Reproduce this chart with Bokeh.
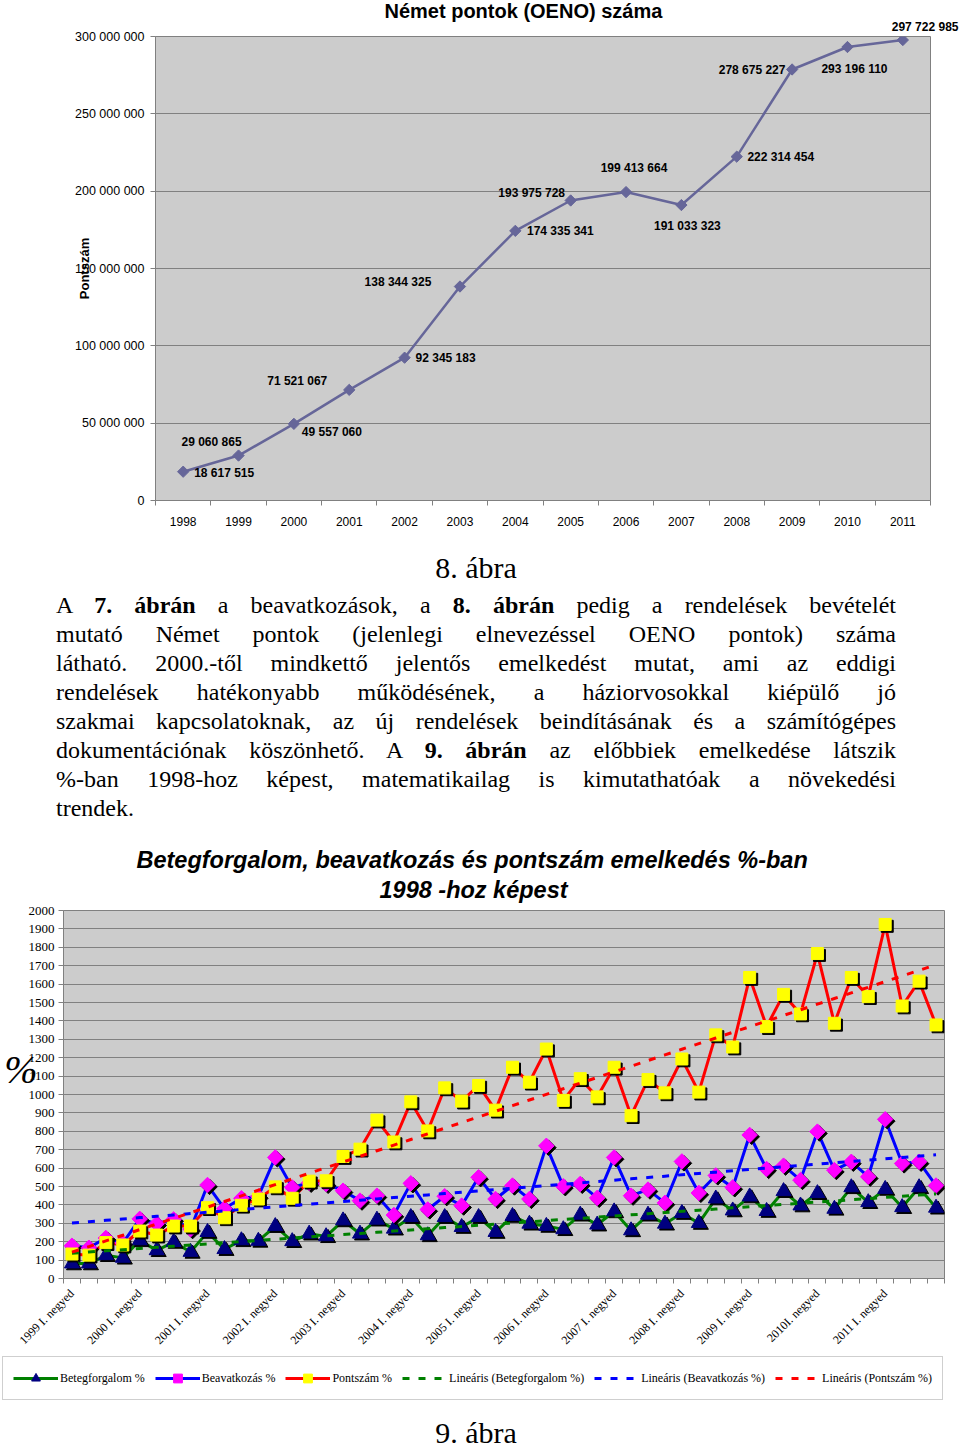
import numpy as np
from math import pi
from bokeh.plotting import figure
from bokeh.models import (ColumnDataSource, LabelSet, FixedTicker, CustomJSTickFormatter,
                          Legend, LegendItem, Div, Range1d, Title, LinearAxis)
from bokeh.layouts import column, row
from bokeh.transform import dodge
from bokeh.core.properties import value
from bokeh.embed import file_html
from bokeh.resources import INLINE

# ---------------- data: chart 8 ----------------
years = ['1998', '1999', '2000', '2001', '2002', '2003', '2004', '2005',
         '2006', '2007', '2008', '2009', '2010', '2011']
pontszam_total = [18617515, 29060865, 49557060, 71521067, 92345183, 138344325,
                  174335341, 193975728, 199413664, 191033323, 222314454,
                  278675227, 293196110, 297722985]
y_ticks_top = [0, 50000000, 100000000, 150000000, 200000000, 250000000, 300000000]

# style: label offsets (pixels) for the data labels of chart 8
label_dx = [41, -27, 38, -52, 41, -62, 45, -39, 8, 6, 44, -40, 7]
label_dy = [-1, 14, -8, 9, 0, 5, 0, 7, 24, -21, 0, -1, -22]

# ---------------- data: chart 9 ----------------
year_list = [str(y) for y in range(1999, 2012)]
roman = ['I', 'II', 'III', 'IV']
quarters = []
for y in year_list:
    for q in roman:
        sep = '' if y == '2010' else ' '
        quarters.append(f"{y}{sep}{q}. negyed")

betegforgalom = [81, 81, 126, 112, 207, 153, 198, 144, 252, 159, 207, 204, 284, 202, 243, 229,
                 315, 243, 319, 270, 333, 234, 333, 279, 333, 252, 339, 297, 285, 267, 346, 292,
                 364, 261, 346, 297, 355, 301, 434, 369, 445, 366, 474, 396, 463, 378, 495, 414,
                 486, 387, 495, 384]
beavatkozas = [178, 167, 220, 192, 324, 298, 321, 268, 508, 380, 436, 446, 658, 495, 520, 514,
               477, 423, 450, 345, 517, 375, 447, 396, 550, 432, 505, 432, 721, 501, 514, 438,
               658, 450, 483, 411, 636, 465, 560, 495, 780, 595, 613, 535, 798, 589, 634, 553,
               865, 625, 634, 505]
pontszam = [133, 127, 195, 182, 258, 236, 285, 285, 385, 330, 398, 432, 498, 436, 529, 531,
            663, 703, 861, 742, 960, 802, 1036, 964, 1049, 915, 1148, 1067, 1247, 968, 1086, 987,
            1148, 885, 1081, 1009, 1193, 1013, 1324, 1258, 1636, 1369, 1544, 1438, 1766, 1387,
            1636, 1532, 1924, 1481, 1616, 1378]
y_ticks_bottom = list(range(0, 2001, 100))
pct_label_at = 1135

SANS = "Liberation Sans"
SERIF = "Liberation Serif"


def fmt(v):
    return f"{v:,}".replace(",", " ")


# ================= chart 8 =================
x1 = list(range(len(years)))
src1 = ColumnDataSource(dict(x=x1, y=pontszam_total))
n_in = len(label_dx)
src1l = ColumnDataSource(dict(x=x1[:n_in], y=pontszam_total[:n_in],
                              lab=[fmt(v) for v in pontszam_total[:n_in]],
                              dx=label_dx, dy=label_dy))

p1 = figure(width=960, height=545, x_range=Range1d(-0.5, len(years) - 0.5),
            y_range=Range1d(0, 300000000), output_backend="svg", toolbar_location=None,
            min_border_left=155, min_border_right=30, min_border_top=36, min_border_bottom=45,
            background_fill_color="#CCCCCC", border_fill_color="white")
p1.title.text = "Német pontok (OENO) száma"
p1.title.text_font = SANS
p1.title.text_font_size = "20px"
p1.title.text_font_style = "bold"
p1.title.text_color = "black"
p1.title.align = "left"
p1.title.offset = 229
p1.title.standoff = -14
# last data label sits outside the plot area (above-right), as in the original
p1.add_layout(Title(text=fmt(pontszam_total[-1]), align="right", offset=-28,
                    text_font=SANS, text_font_size="12px", text_font_style="bold",
                    text_color="black", standoff=6), "above")
p1.outline_line_color = "#808080"
p1.xgrid.grid_line_color = None
p1.ygrid.grid_line_color = "#808080"
p1.ygrid.ticker = FixedTicker(ticks=y_ticks_top)

p1.xaxis.ticker = FixedTicker(ticks=x1, minor_ticks=[i - 0.5 for i in range(len(years) + 1)])
p1.xaxis.major_label_overrides = {i: years[i] for i in x1}
p1.xaxis.major_tick_out = 0
p1.xaxis.major_tick_in = 0
p1.xaxis.minor_tick_out = 5
p1.xaxis.minor_tick_in = 0
p1.xaxis.minor_tick_line_color = "#808080"
p1.xaxis.axis_line_color = "#808080"
p1.xaxis.major_label_text_font = SANS
p1.xaxis.major_label_text_font_size = "12px"
p1.xaxis.major_label_text_color = "black"
p1.xaxis.major_label_standoff = 11

p1.yaxis.ticker = FixedTicker(ticks=y_ticks_top)
p1.yaxis.formatter = CustomJSTickFormatter(
    code="return Math.round(tick).toString().replace(/\\B(?=(\\d{3})+(?!\\d))/g, ' ');")
p1.yaxis.major_tick_out = 5
p1.yaxis.major_tick_in = 0
p1.yaxis.minor_tick_line_color = None
p1.yaxis.major_tick_line_color = "#808080"
p1.yaxis.axis_line_color = "#808080"
p1.yaxis.major_label_text_font = SANS
p1.yaxis.major_label_text_font_size = "12.5px"
p1.yaxis.major_label_text_color = "black"
p1.yaxis.major_label_standoff = 6
p1.yaxis.axis_label = "Pontszám"
p1.yaxis.axis_label_text_font = SANS
p1.yaxis.axis_label_text_font_size = "13px"
p1.yaxis.axis_label_text_font_style = "bold"
p1.yaxis.axis_label_text_color = "black"
p1.yaxis.axis_label_standoff = -20

p1.line('x', 'y', source=src1, line_color="#666699", line_width=2.5)
p1.scatter('x', 'y', source=src1, marker="square", angle=pi / 4, size=8,
           fill_color="#666699", line_color="#666699")
p1.add_layout(LabelSet(x='x', y='y', text='lab', x_offset='dx', y_offset='dy', source=src1l,
                       text_font=value(SANS), text_font_size=value("12px"),
                       text_font_style="bold",
                       text_align="center", text_baseline="middle", text_color="black"))

# ================= text block =================
para_lines = [
    "A <b>7. ábrán</b> a beavatkozások, a <b>8. ábrán</b> pedig a rendelések bevételét",
    "mutató Német pontok (jelenlegi elnevezéssel OENO pontok) száma",
    "látható. 2000.-től mindkettő jelentős emelkedést mutat, ami az eddigi",
    "rendelések hatékonyabb működésének, a háziorvosokkal kiépülő jó",
    "szakmai kapcsolatoknak, az új rendelések beindításának és a számítógépes",
    "dokumentációnak köszönhető. A <b>9. ábrán</b> az előbbiek emelkedése látszik",
    "%-ban 1998-hoz képest, matematikailag is kimutathatóak a növekedési",
    "trendek.",
]
parts = ['<div style="position:relative;width:960px;height:280px;'
         'font-family:\'Liberation Serif\',serif;color:#000;">',
         '<div style="position:absolute;left:56px;width:840px;top:8px;text-align:center;'
         'font-size:30px;line-height:30px;">8. ábra</div>']
for k, ln in enumerate(para_lines):
    last = k == len(para_lines) - 1
    align = "text-align:left;" if last else "text-align:justify;text-align-last:justify;"
    parts.append(f'<div style="position:absolute;left:56px;width:840px;top:{46 + 29 * k}px;'
                 f'{align}font-size:24px;line-height:29px;white-space:nowrap;">{ln}</div>')
parts.append('</div>')
div_text = Div(text="".join(parts), width=960, height=280, margin=0)

# ================= chart 9 =================
x2 = list(range(len(quarters)))
xa = np.array(x2, dtype=float)


def trend(vals):
    a, b = np.polyfit(xa, np.array(vals, dtype=float), 1)
    return list(a * xa + b)


src2 = ColumnDataSource(dict(x=x2, bf=betegforgalom, bv=beavatkozas, ps=pontszam,
                             tbf=trend(betegforgalom), tbv=trend(beavatkozas),
                             tps=trend(pontszam)))

p2 = figure(width=960, height=530, x_range=Range1d(-0.5, len(quarters) - 0.5),
            y_range=Range1d(0, 2000), output_backend="svg", toolbar_location=None,
            min_border_left=63, min_border_right=16, min_border_top=85, min_border_bottom=75,
            background_fill_color="#CCCCCC", border_fill_color="white")
p2.title.text = "Betegforgalom, beavatkozás és pontszám emelkedés %-ban"
p2.title.align = "left"
p2.title.offset = 73
p2.title.text_font = SANS
p2.title.text_font_size = "23.5px"
p2.title.text_font_style = "bold italic"
p2.title.text_color = "black"
p2.title.standoff = -10
p2.add_layout(Title(text="1998 -hoz képest", align="left", offset=316, text_font=SANS,
                    text_font_size="23.5px", text_font_style="bold italic",
                    text_color="black", standoff=15), "above")
p2.outline_line_color = "#808080"
p2.xgrid.grid_line_color = None
p2.ygrid.grid_line_color = "#808080"
p2.ygrid.ticker = FixedTicker(ticks=y_ticks_bottom)

lbl_ticks = x2[::4]
p2.xaxis.ticker = FixedTicker(ticks=lbl_ticks,
                              minor_ticks=[i - 0.5 for i in range(len(quarters) + 1)])
p2.xaxis.major_label_overrides = {i: quarters[i] for i in lbl_ticks}
p2.xaxis.major_label_orientation = pi / 4
p2.xaxis.major_tick_out = 0
p2.xaxis.major_tick_in = 0
p2.xaxis.minor_tick_out = 5
p2.xaxis.minor_tick_in = 0
p2.xaxis.minor_tick_line_color = "#808080"
p2.xaxis.axis_line_color = "#808080"
p2.xaxis.major_label_text_font = SERIF
p2.xaxis.major_label_text_font_size = "12px"
p2.xaxis.major_label_text_color = "black"
p2.xaxis.major_label_standoff = 8

p2.yaxis.ticker = FixedTicker(ticks=y_ticks_bottom)
p2.yaxis.major_tick_out = 5
p2.yaxis.major_tick_in = 0
p2.yaxis.minor_tick_line_color = None
p2.yaxis.major_tick_line_color = "#808080"
p2.yaxis.axis_line_color = "#808080"
p2.yaxis.major_label_text_font = SERIF
p2.yaxis.major_label_text_font_size = "13px"
p2.yaxis.major_label_text_color = "black"
p2.yaxis.major_label_standoff = 4

# "%" axis title (upright), drawn as a second left axis with a single label
pct_axis = LinearAxis(ticker=FixedTicker(ticks=[pct_label_at]),
                      major_label_overrides={pct_label_at: "%"},
                      axis_line_color=None, major_tick_line_color=None,
                      minor_tick_line_color=None, major_label_text_font=SERIF,
                      major_label_text_font_size="40px", major_label_text_font_style="italic",
                      major_label_text_color="black", major_label_standoff=-18)
p2.add_layout(pct_axis, "left")

# series
l1 = p2.line('x', 'bf', source=src2, line_color="#008000", line_width=3)
l2 = p2.line('x', 'bv', source=src2, line_color="#0000FF", line_width=3)
l3 = p2.line('x', 'ps', source=src2, line_color="#FF0000", line_width=3)

sx = dodge('x', 0.12)
p2.scatter(sx, dodge('bf', -10), source=src2, marker="triangle", size=15,
           fill_color="black", line_color="black")
p2.scatter('x', 'bf', source=src2, marker="triangle", size=15,
           fill_color="#000080", line_color="#000080")
p2.scatter(sx, dodge('bv', -10), source=src2, marker="square", angle=pi / 4, size=11,
           fill_color="black", line_color="black")
p2.scatter('x', 'bv', source=src2, marker="square", angle=pi / 4, size=11,
           fill_color="#FF00FF", line_color="#FF00FF")
p2.scatter(sx, dodge('ps', -10), source=src2, marker="square", size=12,
           fill_color="black", line_color="black")
p2.scatter('x', 'ps', source=src2, marker="square", size=12,
           fill_color="#FFFF00", line_color="#FFFF00")

p2.line('x', 'tbf', source=src2, line_color="#008000", line_width=3, line_dash="7 9")
p2.line('x', 'tbv', source=src2, line_color="#0000FF", line_width=3, line_dash="7 9")
p2.line('x', 'tps', source=src2, line_color="#FF0000", line_width=3, line_dash="7 9")

# ================= legend strip =================
p3 = figure(width=960, height=60, x_range=Range1d(0, 1), y_range=Range1d(0, 1),
            output_backend="svg", toolbar_location=None, min_border=0,
            x_axis_location=None, y_axis_location=None,
            background_fill_color="white", border_fill_color="white")
p3.outline_line_color = None
p3.grid.visible = False
# legend swatches (placed outside the visible range of this strip)
ox, oy = [5], [5]
g1 = [p3.line(x=ox, y=oy, line_color="#008000", line_width=3),
      p3.scatter(x=ox, y=oy, marker="triangle", size=12, fill_color="#000080",
                 line_color="#000080")]
g2 = [p3.line(x=ox, y=oy, line_color="#0000FF", line_width=3),
      p3.scatter(x=ox, y=oy, marker="square", angle=pi / 4, size=9, fill_color="#FF00FF",
                 line_color="#FF00FF")]
g3 = [p3.line(x=ox, y=oy, line_color="#FF0000", line_width=3),
      p3.scatter(x=ox, y=oy, marker="square", size=11, fill_color="#FFFF00",
                 line_color="#FFFF00")]
g4 = [p3.line(x=ox, y=oy, line_color="#008000", line_width=3, line_dash="7 9")]
g5 = [p3.line(x=ox, y=oy, line_color="#0000FF", line_width=3, line_dash="7 9")]
g6 = [p3.line(x=ox, y=oy, line_color="#FF0000", line_width=3, line_dash="7 9")]

legend = Legend(items=[
    LegendItem(label="Betegforgalom %", renderers=g1),
    LegendItem(label="Beavatkozás %", renderers=g2),
    LegendItem(label="Pontszám %", renderers=g3),
    LegendItem(label="Lineáris (Betegforgalom %)", renderers=g4),
    LegendItem(label="Lineáris (Beavatkozás %)", renderers=g5),
    LegendItem(label="Lineáris (Pontszám %)", renderers=g6),
], orientation="horizontal", location=(2, 15), label_text_font=SERIF,
    label_text_font_size="12px", label_text_color="black", glyph_width=45, glyph_height=22,
    label_standoff=2, spacing=10, padding=10, margin=0, border_line_color="#A0A0A0",
    background_fill_color="white", background_fill_alpha=1.0)
p3.add_layout(legend, "center")

div_cap = Div(text='<div style="width:960px;height:36px;position:relative;'
                   'font-family:\'Liberation Serif\',serif;">'
                   '<div style="position:absolute;left:56px;width:840px;top:2px;'
                   'text-align:center;font-size:30px;line-height:32px;">9. ábra</div></div>',
              width=960, height=36, margin=0)

layout = column(row(p1), div_text, row(p2), row(p3), div_cap, spacing=0)

with open("out.html", "w") as f:
    f.write(file_html(layout, INLINE))
